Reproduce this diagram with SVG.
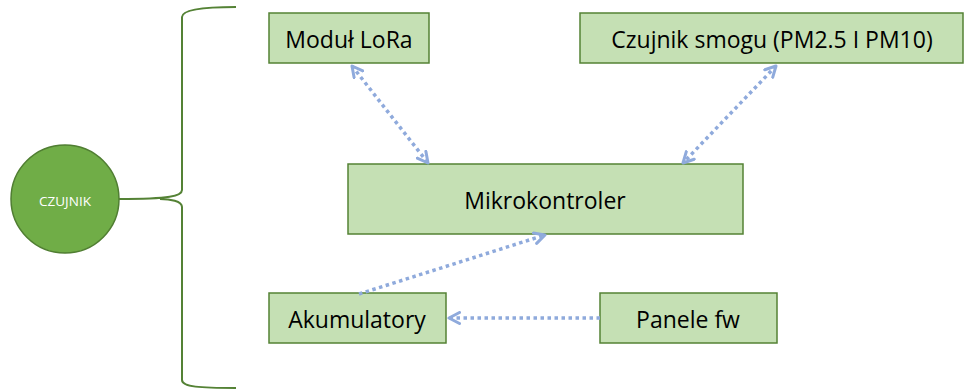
<svg xmlns="http://www.w3.org/2000/svg" width="964" height="391" viewBox="0 0 964 391">
  <style>
    .box { fill: #c5e0b4; stroke: #548235; stroke-width: 1.5; }
    .label { font-family: "Open Sans", "Liberation Sans", sans-serif; font-size: 23px; fill: #000; text-anchor: middle; dominant-baseline: central; }
    .link { fill: none; stroke: #8faadc; stroke-width: 3.5; stroke-dasharray: 3.5 3.5; }
    .brace { fill: none; stroke: #548235; stroke-width: 2; }
  </style>
  <defs>
    <marker id="open-arrow" viewBox="0 0 14 14" refX="12" refY="7" markerWidth="14" markerHeight="14" markerUnits="userSpaceOnUse" orient="auto-start-reverse">
      <path d="M1.5,1.5 L12,7 L1.5,12.5" fill="none" stroke="#8faadc" stroke-width="3" stroke-linecap="round" stroke-linejoin="round"/>
    </marker>
  </defs>

  <!-- root node -->
  <g id="czujnik">
    <circle cx="65" cy="199" r="54" fill="#70ad47" stroke="#507e32" stroke-width="1.5"/>
    <text x="65" y="201" font-family="'Open Sans', 'Liberation Sans', sans-serif" font-size="13.5" fill="#ffffff" text-anchor="middle" dominant-baseline="central">CZUJNIK</text>
  </g>

  <!-- curly brace grouping the components -->
  <g id="brace">
    <path class="brace" d="M236,7 C200,7 182,10 182,17 L182,190 C182,196 170,199 119,199 M160,199 C170,199 182,201 182,207 L182,380 C182,387 200,388 236,388"/>
  </g>

  <g id="modul-lora">
    <rect class="box" x="269" y="13" width="160" height="50"/>
    <text class="label" x="349" y="39">Moduł LoRa</text>
  </g>

  <g id="czujnik-smogu">
    <rect class="box" x="580" y="13" width="383" height="50"/>
    <text class="label" x="772" y="39">Czujnik smogu (PM2.5 I PM10)</text>
  </g>

  <g id="mikrokontroler">
    <rect class="box" x="348" y="164" width="395" height="70"/>
    <text class="label" x="545" y="200">Mikrokontroler</text>
  </g>

  <g id="akumulatory">
    <rect class="box" x="269" y="293" width="177" height="50"/>
    <text class="label" x="357" y="319">Akumulatory</text>
  </g>

  <g id="panele-fw">
    <rect class="box" x="600" y="293" width="177" height="50"/>
    <text class="label" x="688" y="319">Panele fw</text>
  </g>

  <!-- connectors -->
  <g id="connectors">
    <line class="link" x1="352" y1="66" x2="428" y2="163" marker-start="url(#open-arrow)" marker-end="url(#open-arrow)"/>
    <line class="link" x1="776" y1="66" x2="683" y2="163" marker-start="url(#open-arrow)" marker-end="url(#open-arrow)"/>
    <line class="link" x1="359" y1="294" x2="545" y2="235" marker-end="url(#open-arrow)"/>
    <line class="link" x1="600" y1="318" x2="449" y2="318" marker-end="url(#open-arrow)"/>
  </g>
</svg>
